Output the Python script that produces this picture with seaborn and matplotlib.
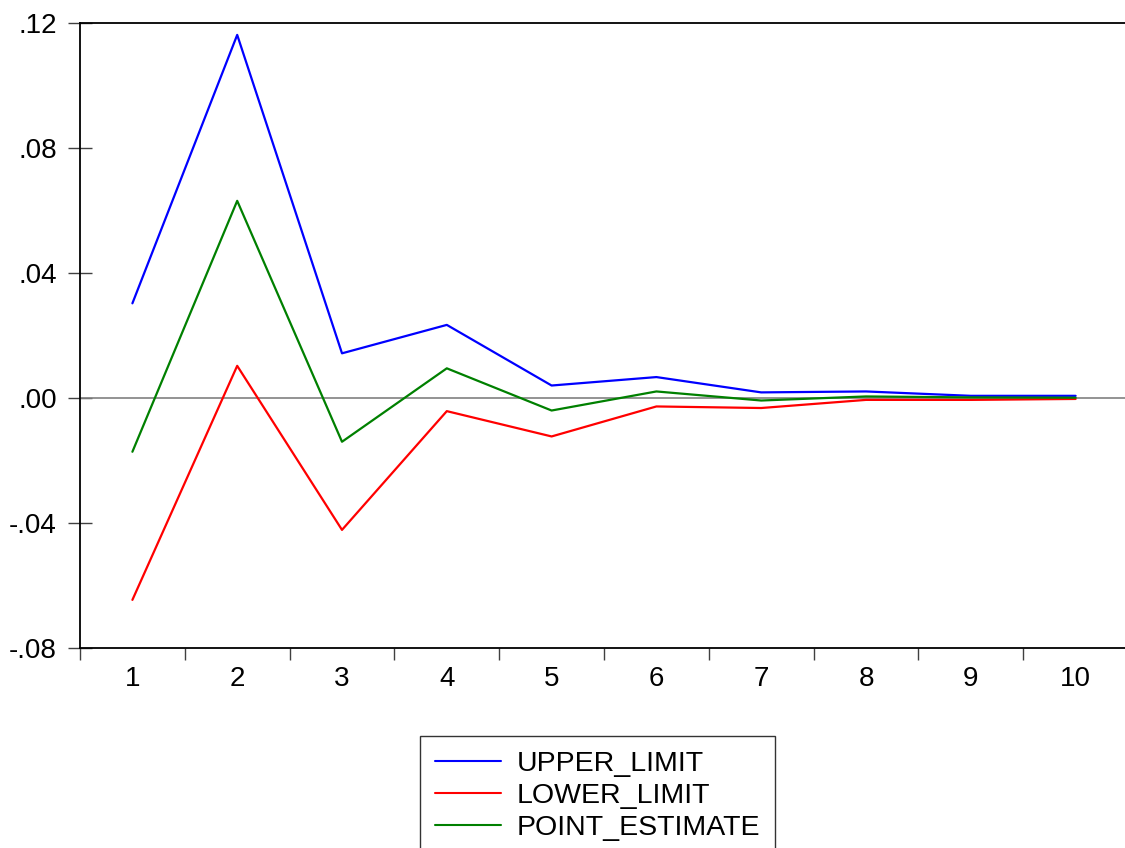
import matplotlib
matplotlib.use("Agg")
import matplotlib.pyplot as plt
import seaborn as sns
import pandas as pd
import numpy as np

periods = [1, 2, 3, 4, 5, 6, 7, 8, 9, 10]
upper_limit = [0.0302, 0.1161, 0.0142, 0.0233, 0.0039, 0.0066, 0.0017, 0.0020, 0.0006, 0.0006]
lower_limit = [-0.0647, 0.0102, -0.0423, -0.0043, -0.0124, -0.0028, -0.0033, -0.0007, -0.0007, -0.0004]
point_estimate = [-0.0173, 0.0630, -0.0141, 0.0094, -0.0041, 0.0020, -0.0009, 0.0004, 0.0001, 0.0000]
series_names = ["UPPER_LIMIT", "LOWER_LIMIT", "POINT_ESTIMATE"]
series_colors = ["#0000ff", "#ff0000", "#008000"]
y_ticks = [-0.08, -0.04, 0.00, 0.04, 0.08, 0.12]
y_tick_labels = ["-.08", "-.04", ".00", ".04", ".08", ".12"]

sns.set_theme(style="white")
plt.rcParams['font.family'] = ['Liberation Sans', 'DejaVu Sans']

df = pd.DataFrame({
    "period": periods * 3,
    "value": upper_limit + lower_limit + point_estimate,
    "series": [series_names[0]] * 10 + [series_names[1]] * 10 + [series_names[2]] * 10,
})

fig = plt.figure(figsize=(11.25, 8.48), dpi=100)
ax = fig.add_axes([80 / 1125, 1 - 647.7 / 848, 1048 / 1125, (647.7 - 22.7) / 848])

ax.axhline(0, color="#808080", lw=1.2, zorder=1)
sns.lineplot(data=df, x="period", y="value", hue="series", hue_order=series_names,
             palette=series_colors, lw=1.6, ax=ax, legend=False, zorder=3)

ax.set_xlim(0.5, 10.5)
ax.set_ylim(-0.08, 0.12)
ax.set_xlabel("")
ax.set_ylabel("")

ax.set_yticks(y_ticks)
ax.set_yticklabels(y_tick_labels)
ax.tick_params(axis="y", direction="inout", length=17, width=1, color="#404040",
               labelsize=20, pad=8, left=True, labelcolor="black")

ax.set_xticks(np.arange(0.5, 11, 1.0))
ax.set_xticklabels([""] * 11)
ax.set_xticks(periods, minor=True)
ax.set_xticklabels([str(p) for p in periods], minor=True)
ax.tick_params(axis="x", which="major", direction="out", length=8.5, width=1,
               color="#404040", bottom=True)
ax.tick_params(axis="x", which="minor", length=0, labelsize=20, pad=13, bottom=True,
               labelcolor="black")

for s in ["left", "top", "bottom"]:
    ax.spines[s].set_color("black")
    ax.spines[s].set_linewidth(1.3)
ax.spines["right"].set_visible(False)

handles = [matplotlib.lines.Line2D([], [], color=c, lw=1.5) for c in series_colors]
leg = fig.legend(handles, series_names, loc="upper left",
                 bbox_to_anchor=(420 / 1125, 1 - 736 / 848), bbox_transform=fig.transFigure,
                 fontsize=20.5, frameon=True, fancybox=False, edgecolor="black",
                 handlelength=2.32, handletextpad=0.56, borderpad=0.52,
                 labelspacing=0.22, borderaxespad=0)
leg.get_frame().set_linewidth(1.0)
for t in leg.get_texts():
    t.set_color("black")

fig.savefig("out.png", dpi=100)
